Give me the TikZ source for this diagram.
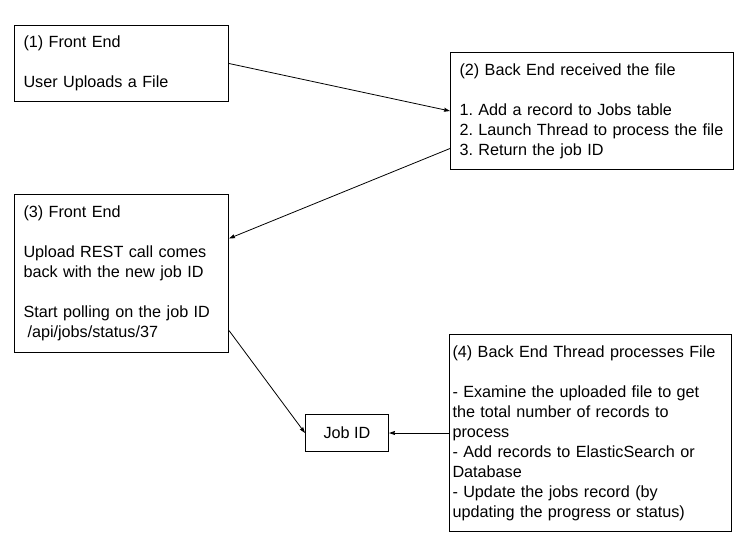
\documentclass[tikz,border=0pt]{standalone}
\usepackage{fontspec}
\setmainfont{Liberation Sans}
\usetikzlibrary{arrows.meta}
\frenchspacing
\begin{document}
\begin{tikzpicture}[x=1pt,y=-1pt,
  box/.style={draw=black, line width=1pt, rectangle, align=left, anchor=north west,
    font=\fontsize{16.2}{20}\selectfont, inner ysep=0pt},
  conn/.style={draw=black, line width=0.8pt, -{Stealth[length=6pt,width=4pt,inset=0.6pt]}}]
\useasboundingbox[fill=white] (0,0) rectangle (747,549);
% boxes
\node[box, minimum width=214pt, minimum height=76pt, text width=196pt, inner xsep=9pt] (b1) at (14,25)
  {(1) Front End\\[20pt]User Uploads a File};
\node[box, minimum width=283pt, minimum height=117pt, text width=269pt, inner xsep=7pt] (b2) at (450,52)
  {\hspace*{2pt}(2) Back End received the file\\[20pt]\hspace*{2pt}1. Add a record to Jobs table\\\hspace*{2pt}2. Launch Thread to process the file\\\hspace*{2pt}3. Return the job ID};
\node[box, minimum width=214pt, minimum height=158pt, text width=200pt, inner xsep=7pt] (b3) at (14,194)
  {\hspace*{2pt}(3) Front End\\[20pt]\hspace*{2pt}Upload REST call comes\\\hspace*{2pt}back with the new job ID\\[20pt]\hspace*{2pt}Start polling on the job ID\\\hspace*{6pt}/api/jobs/status/37};
\node[box, minimum width=282pt, minimum height=197pt, text width=276pt, inner xsep=3pt] (b4) at (449,334)
  {(4) Back End Thread processes File\\[20pt]- Examine the uploaded file to get\\the total number of records to\\process\\- Add records to ElasticSearch or\\Database\\- Update the jobs record (by\\updating the progress or status)};
\node[box, minimum width=83pt, minimum height=37pt, align=center, inner xsep=0pt] (jid) at (305,414) {Job ID};
% connectors
\draw[conn] (b1.east) -- (b2.west);
\draw[conn] ([yshift=-37.5pt]b2.west) -- ([yshift=35pt]b3.east);
\draw[conn] ([yshift=-57pt]b3.east) -- (jid.west);
\draw[conn] (b4.west) -- (jid.east);
\end{tikzpicture}
\end{document}
